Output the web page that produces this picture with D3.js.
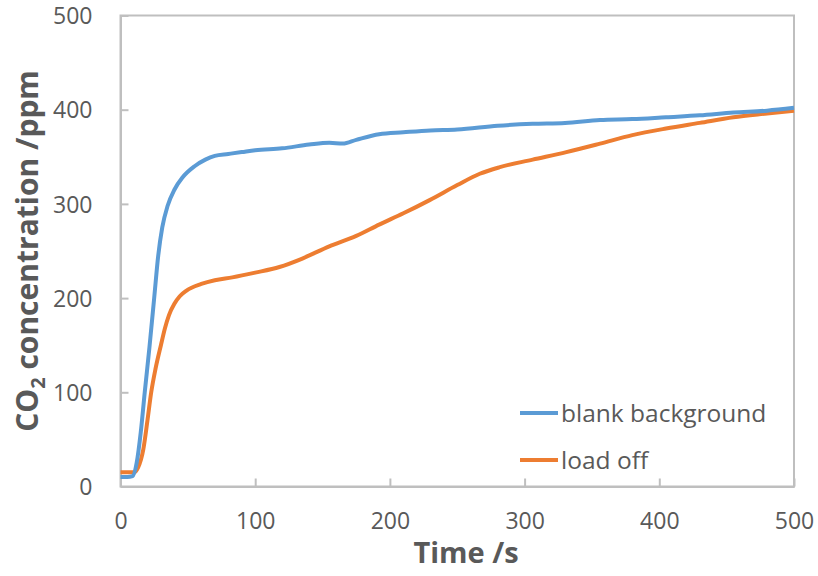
<!DOCTYPE html>
<html>
<head>
<meta charset="utf-8">
<script src="https://cdn.jsdelivr.net/npm/d3@7"></script>
<style>
  body { margin: 0; background: #fff; }
  svg { display: block; font-family: "Open Sans", sans-serif; }
</style>
</head>
<body>
<div id="plot"></div>
<script>
// time (s) and CO2 (ppm)
var blankTime = [0, 5, 9, 12, 15, 18, 21.5, 25, 28, 31, 35, 40, 46, 55, 63, 70, 80, 90, 100, 120, 140, 155, 165, 175, 192, 210, 230, 250, 280, 306, 330, 356, 380, 405, 430, 455, 480, 500];
var blankCO2 = [10, 10, 11, 25, 57, 100, 148, 200, 245, 275, 298, 315, 328, 340, 347, 351, 353, 355, 357, 359, 363, 365, 364, 368, 374, 376, 378, 379, 383, 385, 386, 389, 390, 392, 394, 397, 399, 402];

var loadTime = [0, 5, 10, 13, 17, 20, 22.8, 26, 30, 33, 36, 40, 44, 49, 60, 70, 83, 100, 118, 135, 155, 175, 192, 210, 229.5, 250, 266.7, 281.6, 306, 331, 356, 380, 405, 430, 455, 480, 500];
var loadCO2 = [15, 15, 15, 20, 40, 70, 100, 125, 150, 168, 182, 194, 202, 208, 215, 219, 222, 227, 233, 242, 255, 266, 278, 290, 304, 320, 332, 339, 347, 355, 364, 373, 380, 386, 392, 396, 399];

var xTicks = [0, 100, 200, 300, 400, 500];
var yTicks = [0, 100, 200, 300, 400, 500];

var seriesNames = ["blank background", "load off"];
var seriesColors = ["#5b9bd5", "#ed7d31"];

var W = 818, H = 576;
var margin = { top: 15.5, right: 24, bottom: 89.5, left: 120.5 },
    width = W - margin.left - margin.right,
    height = H - margin.top - margin.bottom;

var xScale = d3.scaleLinear().domain([0, 500]).range([0, width]);
var yScale = d3.scaleLinear().domain([0, 500]).range([height, 0]);

var svg = d3.select("#plot").append("svg")
    .attr("width", W)
    .attr("height", H);

var g = svg.append("g")
    .attr("transform", "translate(" + margin.left + "," + margin.top + ")");

var axisColor = "#bfbfbf", textColor = "#595959";

// frame
g.append("rect")
    .attr("width", width)
    .attr("height", height)
    .attr("fill", "none")
    .attr("stroke", axisColor)
    .attr("stroke-width", 2);

// axes, ticks pointing inward
var xAxis = g.append("g")
    .attr("transform", "translate(0," + height + ")")
    .call(d3.axisBottom(xScale).tickValues(xTicks).tickSizeInner(-8).tickSizeOuter(0).tickPadding(26));
var yAxis = g.append("g")
    .call(d3.axisLeft(yScale).tickValues(yTicks).tickSizeInner(-8).tickSizeOuter(0).tickPadding(28));

[xAxis, yAxis].forEach(function (a) {
    a.select(".domain").attr("stroke", axisColor).attr("stroke-width", 2);
    a.selectAll(".tick line").attr("stroke", axisColor).attr("stroke-width", 2);
    a.selectAll(".tick text")
        .attr("fill", textColor)
        .style("font-size", "23px")
        .style("font-family", "'Open Sans', sans-serif");
});
yAxis.selectAll(".tick text").attr("dy", "0.36em");

// lines
var series = [
    { name: seriesNames[0], color: seriesColors[0], t: blankTime, v: blankCO2 },
    { name: seriesNames[1], color: seriesColors[1], t: loadTime, v: loadCO2 }
];

var line = d3.line()
    .x(function (d) { return xScale(d[0]); })
    .y(function (d) { return yScale(d[1]); })
    .curve(d3.curveMonotoneX);

// draw load off first, blank on top
series.slice().reverse().forEach(function (s) {
    g.append("path")
        .datum(d3.zip(s.t, s.v))
        .attr("fill", "none")
        .attr("stroke", s.color)
        .attr("stroke-width", 4)
        .attr("stroke-linejoin", "round")
        .attr("d", line);
});

// legend
var legend = g.selectAll(".legend")
    .data(series)
    .enter().append("g")
    .attr("class", "legend")
    .attr("transform", function (d, i) { return "translate(" + (520 - margin.left) + "," + (413 - margin.top + i * 47) + ")"; });

legend.append("line")
    .attr("x1", 0).attr("x2", 38)
    .attr("stroke", function (d) { return d.color; })
    .attr("stroke-width", 4);

legend.append("text")
    .attr("x", 41)
    .attr("dy", "0.36em")
    .attr("fill", textColor)
    .style("font-size", "24.5px")
    .text(function (d) { return d.name; });

// axis titles
svg.append("text")
    .attr("x", 466)
    .attr("y", 563)
    .attr("text-anchor", "middle")
    .attr("fill", textColor)
    .style("font-size", "29px")
    .style("font-weight", "bold")
    .text("Time /s");

var yt = svg.append("text")
    .attr("transform", "translate(38," + (margin.top + height / 2) + ") rotate(-90)")
    .attr("text-anchor", "middle")
    .attr("fill", textColor)
    .style("font-size", "30px")
    .style("font-weight", "bold");
yt.append("tspan").text("CO");
yt.append("tspan").attr("dy", 7).style("font-size", "20px").text("2");
yt.append("tspan").attr("dy", -7).text(" concentration /ppm");
</script>
</body>
</html>
